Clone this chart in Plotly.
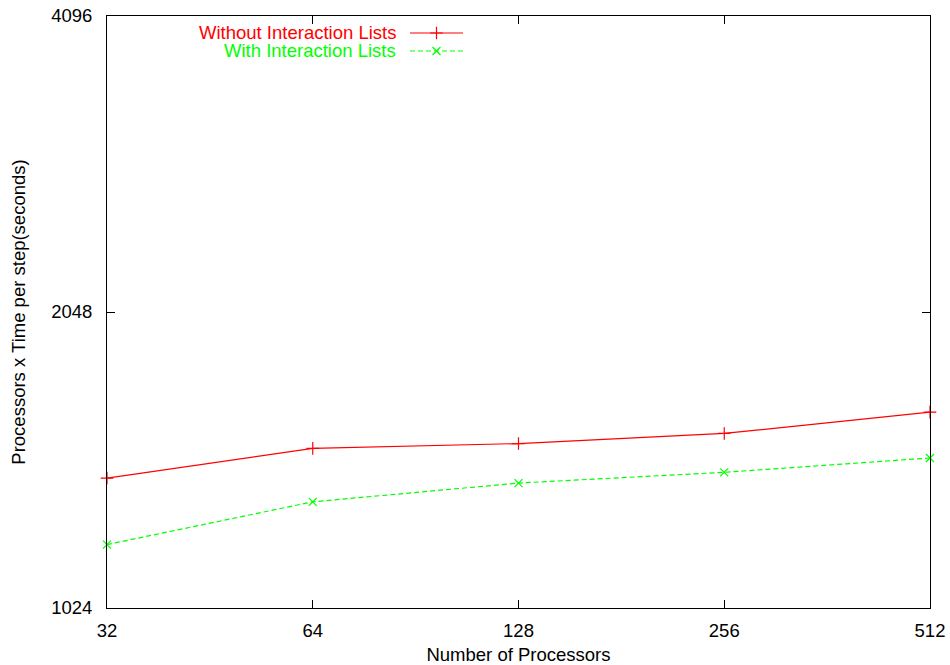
import plotly.graph_objects as go
import math

processors = [32, 64, 128, 256, 512]
without_lists = [1388, 1488, 1505, 1541, 1620]
with_lists = [1188, 1313, 1372, 1407, 1455]
x_ticks = [32, 64, 128, 256, 512]
y_ticks = [1024, 2048, 4096]
series_names = ["Without Interaction Lists", "With Interaction Lists"]

RED = "#ff0000"
GREEN = "#00ff00"
FONT = "Liberation Sans, Arial, Helvetica, sans-serif"
FS = 18.5

W, H = 950, 665
L, R, T, B = 107, 20, 16, 57
EPS = 1e-7

fig = go.Figure()

fig.add_trace(go.Scatter(
    x=processors, y=without_lists, mode="lines+markers",
    line=dict(color=RED, width=1.2),
    marker=dict(symbol="cross-thin", size=9, line=dict(color=RED, width=1.2)),
    cliponaxis=False, showlegend=False, name=series_names[0]))
fig.add_trace(go.Scatter(
    x=processors, y=with_lists, mode="lines+markers",
    line=dict(color=GREEN, width=1.2, dash="5px,3px"),
    marker=dict(symbol="x-thin", size=8, line=dict(color=GREEN, width=1.2)),
    cliponaxis=False, showlegend=False, name=series_names[1]))

# legend keys drawn on a pixel-mapped overlay axis
key_x0, key_x1 = 410, 463
rows = [(33, RED, "solid", "cross-thin", 9), (51, GREEN, "5px,3px", "x-thin", 8)]
for (ky, col, dash, sym, ms), name in zip(rows, series_names):
    fig.add_trace(go.Scatter(
        x=[key_x0, key_x1], y=[ky, ky], mode="lines", xaxis="x2", yaxis="y2",
        line=dict(color=col, width=1.2, dash=dash), showlegend=False, hoverinfo="skip"))
    fig.add_trace(go.Scatter(
        x=[(key_x0 + key_x1) / 2], y=[ky], mode="markers", xaxis="x2", yaxis="y2",
        marker=dict(symbol=sym, size=ms, line=dict(color=col, width=1.2)),
        showlegend=False, hoverinfo="skip"))
    fig.add_annotation(x=398, y=ky - 0.5, xref="x2", yref="y2", text=name,
                       showarrow=False, xanchor="right", yanchor="middle",
                       font=dict(family=FONT, size=FS, color=col))

axis_common = dict(
    showgrid=False, zeroline=False, showline=True, linecolor="black", linewidth=1,
    mirror="allticks", ticks="inside", ticklen=8, tickwidth=1, tickcolor="black",
    tickfont=dict(family=FONT, size=FS, color="black"), automargin=False,
)

fig.update_layout(
    width=W, height=H,
    margin=dict(l=L, r=R, t=T, b=B, pad=0),
    paper_bgcolor="white", plot_bgcolor="white",
    xaxis=dict(type="log", range=[math.log10(32) - EPS, math.log10(512) + EPS],
               tickvals=x_ticks, ticktext=[str(v) for v in x_ticks],
               ticklabelstandoff=6,
               title=dict(text="Number of Processors", font=dict(family=FONT, size=FS, color="black"), standoff=8),
               **axis_common),
    yaxis=dict(type="log", range=[math.log10(1024) - EPS, math.log10(4096) + EPS],
               tickvals=y_ticks, ticktext=[str(v) for v in y_ticks],
               ticklabelstandoff=10,
               title=dict(text="Processors x Time per step(seconds)", font=dict(family=FONT, size=FS, color="black"), standoff=20),
               **axis_common),
    xaxis2=dict(overlaying="x", range=[L, W - R], visible=False, fixedrange=True),
    yaxis2=dict(overlaying="y", range=[H - B, T], visible=False, fixedrange=True),
    showlegend=False,
)

fig.write_html("out.html", config={"displayModeBar": False},
               post_script="document.body.style.margin='0';document.body.style.overflow='hidden';")
